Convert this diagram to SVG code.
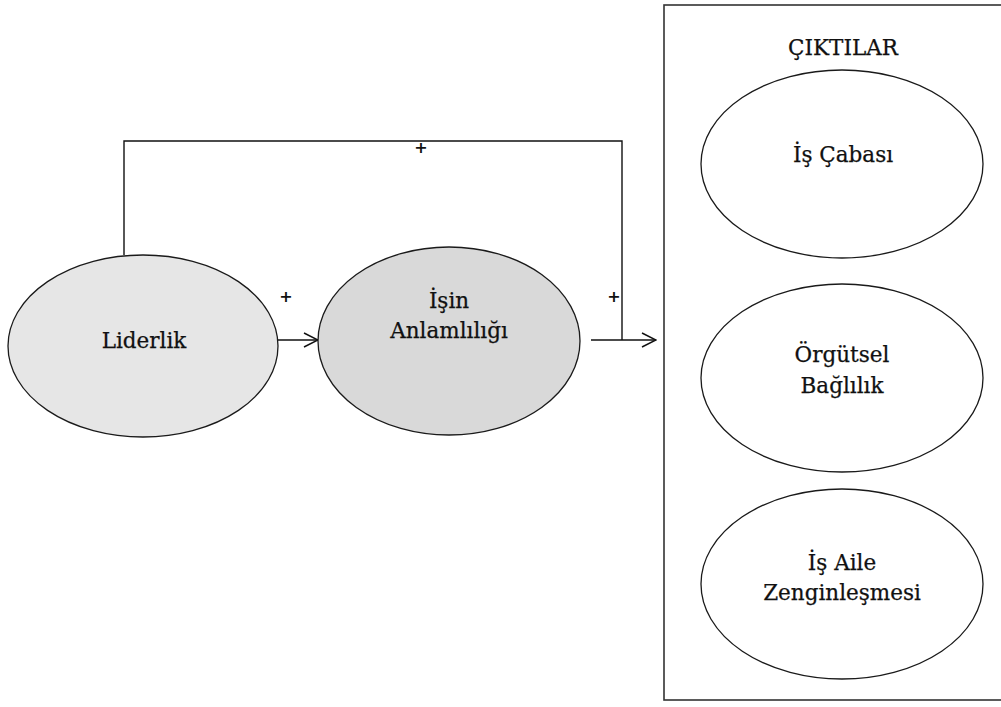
<svg xmlns="http://www.w3.org/2000/svg" width="1001" height="707" viewBox="0 0 1001 707">
  <style>
    .node { stroke: #1a1a1a; stroke-width: 1.3; }
    .lbl { font-family: "DejaVu Serif", "Liberation Serif", serif; font-size: 21.5px; fill: #111; stroke: #111; stroke-width: 0.25; text-anchor: middle; }
    .plus { font-family: "DejaVu Sans", sans-serif; font-size: 16px; font-weight: bold; fill: #111; text-anchor: middle; }
    .wire { fill: none; stroke: #111; stroke-width: 1.4; }
  </style>
  <defs>
    <marker id="open-arrow" viewBox="0 0 16 16" refX="15" refY="8" markerWidth="16" markerHeight="16" markerUnits="userSpaceOnUse" orient="auto">
      <path d="M1,1 L15,8 L1,15" fill="none" stroke="#111" stroke-width="1.5"/>
    </marker>
  </defs>
  <rect width="1001" height="707" fill="#fff"/>

  <!-- outcomes frame -->
  <g id="outcomes">
    <rect x="664" y="5" width="345" height="695" fill="none" stroke="#333" stroke-width="1.6"/>
    <text class="lbl" x="843" y="55">ÇIKTILAR</text>
  </g>

  <!-- connectors -->
  <g id="connectors">
    <path class="wire" d="M124,255 V141 H622 V340"/>
    <line class="wire" x1="278" y1="340" x2="318" y2="340" marker-end="url(#open-arrow)"/>
    <line class="wire" x1="591" y1="340" x2="656" y2="340" marker-end="url(#open-arrow)"/>
    <text class="plus" x="421" y="153">+</text>
    <text class="plus" x="286" y="302">+</text>
    <text class="plus" x="614" y="302">+</text>
  </g>

  <g id="liderlik">
    <ellipse class="node" cx="143" cy="346" rx="135" ry="91" fill="#e6e6e6"/>
    <text class="lbl" x="144" y="348">Liderlik</text>
  </g>

  <g id="isin-anlamliligi">
    <ellipse class="node" cx="449" cy="341" rx="131" ry="94" fill="#d9d9d9"/>
    <text class="lbl" x="449" y="308">İşin</text>
    <text class="lbl" x="449" y="338">Anlamlılığı</text>
  </g>

  <g id="is-cabasi">
    <ellipse class="node" cx="842" cy="164" rx="141" ry="94" fill="#fff"/>
    <text class="lbl" x="843" y="162">İş Çabası</text>
  </g>

  <g id="orgutsel-baglilik">
    <ellipse class="node" cx="842" cy="378" rx="141" ry="94" fill="#fff"/>
    <text class="lbl" x="842" y="362">Örgütsel</text>
    <text class="lbl" x="842" y="393">Bağlılık</text>
  </g>

  <g id="is-aile-zenginlesmesi">
    <ellipse class="node" cx="842" cy="584" rx="141" ry="95" fill="#fff"/>
    <text class="lbl" x="842" y="570">İş Aile</text>
    <text class="lbl" x="842" y="600">Zenginleşmesi</text>
  </g>
</svg>
